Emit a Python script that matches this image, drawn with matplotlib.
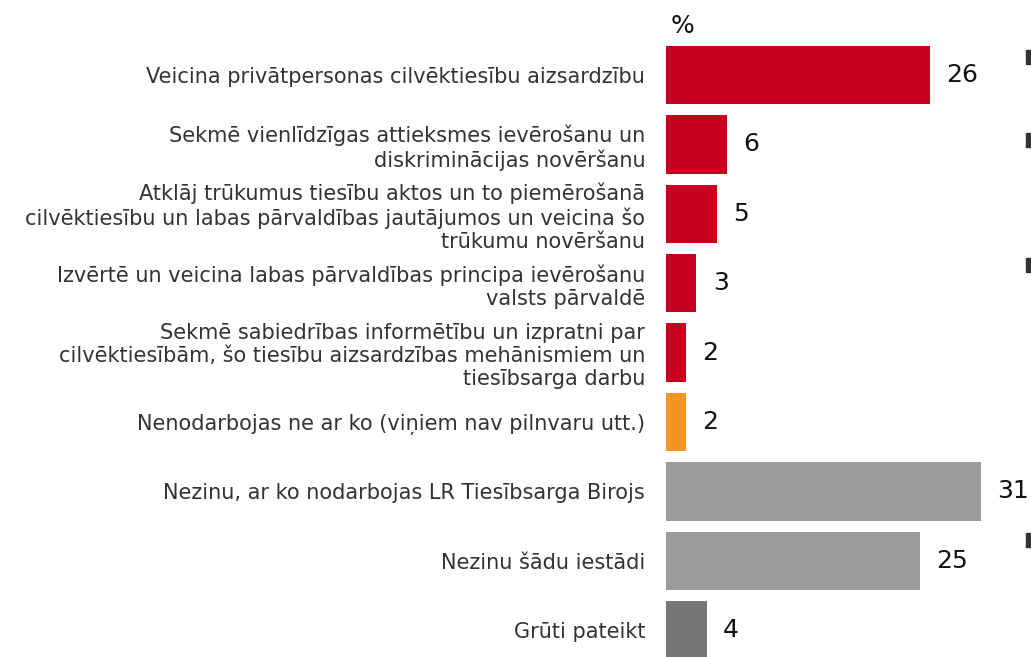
import matplotlib.pyplot as plt
import matplotlib.patches as mpatches

# dati
categorie = [
    "Veicina privātpersonas cilvēktiesību aizsardzību",
    "Sekmē vienlīdzīgas attieksmes ievērošanu un\ndiskriminācijas novēršanu",
    "Atklāj trūkumus tiesību aktos un to piemērošanā\ncilvēktiesību un labas pārvaldības jautājumos un veicina šo\ntrūkumu novēršanu",
    "Izvērtē un veicina labas pārvaldības principa ievērošanu\nvalsts pārvaldē",
    "Sekmē sabiedrības informētību un izpratni par\ncilvēktiesībām, šo tiesību aizsardzības mehānismiem un\ntiesībsarga darbu",
    "Nenodarbojas ne ar ko (viņiem nav pilnvaru utt.)",
    "Nezinu, ar ko nodarbojas LR Tiesībsarga Birojs",
    "Nezinu šādu iestādi",
    "Grūti pateikt",
]
valori = [26, 6, 5, 3, 2, 2, 31, 25, 4]
colori = ["#C8001E"] * 5 + ["#F39423"] + ["#9B9B9B"] * 2 + ["#767676"]

W, H = 1031, 657
fig = plt.figure(figsize=(W / 100, H / 100), dpi=100)

x0 = 666
ax = fig.add_axes([x0 / W, 0, 1 - x0 / W, 1])
px_unit = 10.15
step = 69.4
ax.set_xlim(0, (W - x0) / px_unit)
ax.set_ylim((H - 75) / step, -75 / step)

pos = range(len(valori))
ax.barh(pos, valori, height=0.84, color=colori)

for i, v in enumerate(valori):
    ax.text(v + 1.6, i, str(v), va="center", ha="left", fontsize=18, color="#111111")

ax.set_yticks(list(pos))
ax.set_yticklabels(categorie, fontsize=15, color="#333333", linespacing=1.18)
ax.tick_params(axis="y", length=0, pad=15)
ax.set_xticks([])
for s in ax.spines.values():
    s.set_visible(False)

fig.text(671 / W, 1 - 26 / H, "%", fontsize=18, va="center", ha="left", color="#111111")

# segni scuri tagliati sul bordo destro
for yc in [57, 140, 265, 540]:
    fig.patches.append(mpatches.Rectangle((1026 / W, 1 - (yc + 7) / H), 6 / W, 14 / H,
                                          transform=fig.transFigure, color="#333333"))

fig.savefig("out.png", dpi=100)
